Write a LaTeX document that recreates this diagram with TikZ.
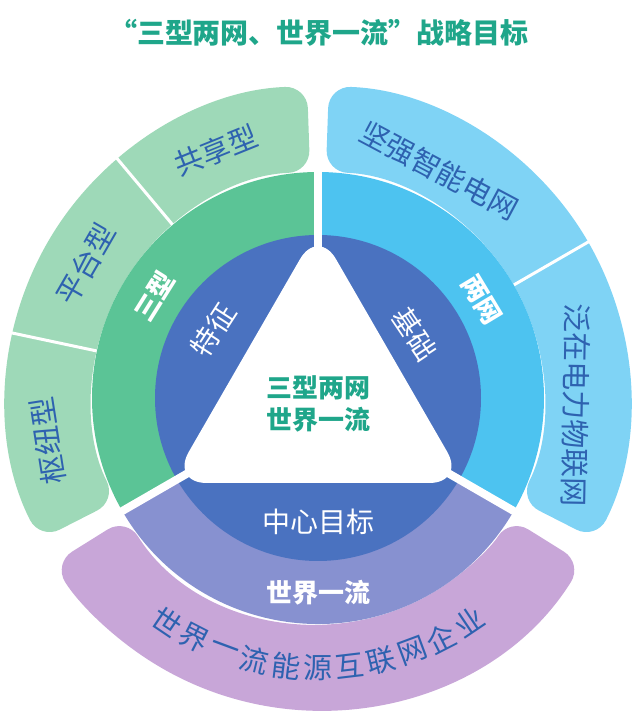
\documentclass[tikz,border=0pt]{standalone}
\usepackage{fontspec}
\setmainfont{Noto Sans CJK SC}
\usetikzlibrary{calc}
\definecolor{gO}{HTML}{9ED9B8}\definecolor{gM}{HTML}{5BC496}
\definecolor{bO}{HTML}{7FD3F5}\definecolor{bM}{HTML}{4DC3F0}
\definecolor{pO}{HTML}{C8A6D8}\definecolor{pM}{HTML}{8791D0}
\definecolor{inB}{HTML}{4A72C0}\definecolor{teal}{HTML}{1FA68A}
\definecolor{txB}{HTML}{2E62B0}
\begin{document}
\begin{tikzpicture}[x=1pt,y=1pt,
 outerlab/.style={text=txB,font=\fontsize{29}{29}\selectfont,inner sep=0},
 midlab/.style={text=white,font=\fontsize{26}{26}\selectfont\bfseries,inner sep=0},
 innlab/.style={text=white,font=\fontsize{28}{28}\selectfont,inner sep=0}]
\useasboundingbox (0,0) rectangle (639,716);
\coordinate (C) at (318,318);
% outer sectors
\fill[gO,rounded corners=22pt] ($(C)+(92:226)$) arc[start angle=92,end angle=207,radius=226] -- ($(C)+(207:312)$) arc[start angle=207,end angle=92,radius=312] -- cycle;
\fill[bO,rounded corners=22pt] ($(C)+(88:226)$) arc[start angle=88,end angle=-27,radius=226] -- ($(C)+(-27:312)$) arc[start angle=-27,end angle=88,radius=312] -- cycle;
\fill[pO,rounded corners=22pt] ($(C)+(212:226)$) arc[start angle=212,end angle=328,radius=226] -- ($(C)+(328:312)$) arc[start angle=328,end angle=212,radius=312] -- cycle;
% separators in outer
\foreach \a in {130,168,30} \draw[white,line width=3pt] ($(C)+(\a:222)$) -- ($(C)+(\a:316)$);
% middle rings
\fill[gM] (C) -- ($(C)+(90:226)$) arc[start angle=90,end angle=210,radius=226] -- cycle;
\fill[bM] (C) -- ($(C)+(90:226)$) arc[start angle=90,end angle=-30,radius=226] -- cycle;
\fill[pM] (C) -- ($(C)+(210:226)$) arc[start angle=210,end angle=330,radius=226] -- cycle;
\fill[inB] (C) circle[radius=163];
\foreach \a in {90,210,330} \draw[white,line width=8pt] (C) -- ($(C)+(\a:320)$);
% triangle
\fill[white,rounded corners=36pt] ($(C)+(90:170)$) -- ($(C)+(210:170)$) -- ($(C)+(330:170)$) -- cycle;
\node[text=teal,font=\fontsize{26}{32}\selectfont\bfseries,align=center] (ctr) at ($(C)+(0,-6)$) {三型两网\\世界一流};
% title
\node[text=teal,font=\fontsize{28}{28}\selectfont\bfseries] (title) at (319,683) {“三型两网、世界一流”战略目标};
% outer labels
\node[outerlab,rotate=22] (a1) at ($(C)+(112.5:268)$) {共享型};
\node[outerlab,rotate=60] (a2) at ($(C)+(150:268)$) {平台型};
\node[outerlab,rotate=99] (a3) at ($(C)+(189:274)$) {枢纽型};
\node[outerlab,rotate=-28] (b1) at ($(C)+(62:258)$) {坚强智能电网};
\node[outerlab,rotate=-91] (b2) at ($(C)+(-1.5:258)$) {泛在电力物联网};
\foreach \c [count=\i from 0] in {世,界,一,流,能,源,互,联,网,企,业}{
  \pgfmathsetmacro\ang{236+6.8*\i}
  \node[outerlab,rotate=\ang+90] (p\i) at ($(C)+(\ang:270)$) {\c};}
% middle labels
\node[midlab,rotate=58] (m1) at ($(C)+(148:193)$) {三型};
\node[midlab,rotate=-59] (m2) at ($(C)+(31:191)$) {两网};
\node[midlab] (m3) at ($(C)+(270:195)$) {世界一流};
% inner labels
\node[innlab,rotate=57] (i1) at ($(C)+(147:125)$) {特征};
\node[innlab,rotate=-56] (i2) at ($(C)+(33.5:116)$) {基础};
\node[innlab] (i3) at ($(C)+(270:124)$) {中心目标};
\end{tikzpicture}
\end{document}
